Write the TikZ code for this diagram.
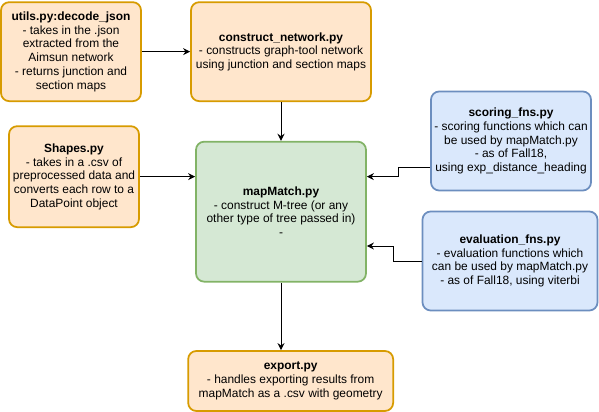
\documentclass[tikz,border=0pt]{standalone}
\usepackage{fontspec}
\setmainfont{Liberation Sans}
\usepackage{xcolor}
\usetikzlibrary{positioning, arrows.meta}
\definecolor{pyfill}{HTML}{FFE6CC}
\definecolor{pydraw}{HTML}{D79B00}
\definecolor{mainfill}{HTML}{D5E8D4}
\definecolor{maindraw}{HTML}{82B366}
\definecolor{fnsfill}{HTML}{DAE8FC}
\definecolor{fnsdraw}{HTML}{6C8EBF}

\begin{document}
\begin{tikzpicture}[
  module/.style={rectangle, rounded corners=7pt, draw=pydraw, line width=1.5pt,
                 fill=pyfill, inner sep=0pt, align=center,
                 font=\fontsize{10.2}{11.7}\selectfont},
  core/.style={module, draw=maindraw, fill=mainfill},
  fns/.style={module, draw=fnsdraw, fill=fnsfill},
  arr/.style={-{Stealth[length=6pt, width=6pt, inset=2pt]}, line width=0.85pt}
]
  \useasboundingbox (0,0) rectangle (17.97,-12.36);

  \node[module, minimum width=4.2cm, minimum height=2.97cm] (utils) at (2.13,-1.55)
    {\textbf{utils.py:decode\_json}\\- takes in the .json\\extracted from the\\Aimsun network\\- returns junction and\\section maps};
  \node[module, minimum width=5.4cm, minimum height=2.97cm] (network) at (8.43,-1.55)
    {\textbf{construct\_network.py}\\- constructs graph-tool network\\using junction and section maps};
  \node[module, minimum width=3.9cm, minimum height=3.03cm] (shapes) at (2.22,-5.3)
    {\textbf{Shapes.py}\\- takes in a .csv of\\preprocessed data and\\converts each row to a\\DataPoint object};
  \node[core, minimum width=5.1cm, minimum height=4.2cm] (mapmatch) at (8.43,-6.35)
    {\textbf{mapMatch.py}\\- construct M-tree (or any\\other type of tree passed in)\\-};
  \node[fns, minimum width=4.8cm, minimum height=2.97cm] (scoring) at (15.33,-4.23)
    {\textbf{scoring\_fns.py}\\- scoring functions which can\\be used by mapMatch.py\\- as of Fall18,\\using exp\_distance\_heading};
  \node[fns, minimum width=5.25cm, minimum height=2.97cm] (evaluation) at (15.3,-7.83)
    {\textbf{evaluation\_fns.py}\\- evaluation functions which\\can be used by mapMatch.py\\- as of Fall18, using viterbi};
  \node[module, minimum width=6.15cm, minimum height=1.8cm] (export) at (8.72,-11.43)
    {\textbf{export.py}\\- handles exporting results from\\mapMatch as a .csv with geometry};

  \draw[arr] (utils.east) -- (network.west);
  \draw[arr] (network.south) -- (mapmatch.north);
  \draw[arr] (shapes.east) -- (shapes.east -| mapmatch.west);
  \draw[arr] ([yshift=-0.78cm]scoring.west) -- ++(-0.95,0) |- ([yshift=1.05cm]mapmatch.east);
  \draw[arr] (evaluation.west) -- ++(-0.83,0) |- ([yshift=-1.03cm]mapmatch.east);
  \draw[arr] (mapmatch.south) -- (mapmatch.south |- export.north);
\end{tikzpicture}
\end{document}
